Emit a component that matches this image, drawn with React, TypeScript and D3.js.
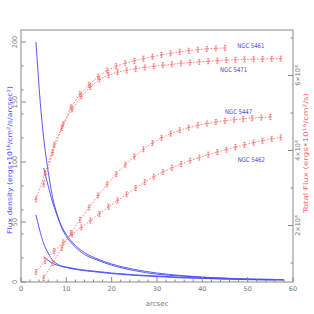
import React from 'react';
import * as d3 from 'd3';

const W = 314;
const H = 314;

// axis ticks
const xTicks = [0, 10, 20, 30, 40, 50, 60];
const xMinor = [2, 4, 6, 8, 12, 14, 16, 18, 22, 24, 26, 28, 32, 34, 36, 38, 42, 44, 46, 48, 52, 54, 56, 58];
const yTicksL = [0, 50, 100, 150, 200];
const yMinorL = [20, 40, 60, 80, 120, 140, 160, 180];
const yTicksR = [20000, 40000, 60000];
const yTickLabelsR = ['2', '4', '6'];
const yMinorR = [10000, 30000, 50000, 70000];

// flux density profiles (blue)
const densA_r = [3.3, 4.4, 5, 6, 7, 8, 9, 10, 12, 14, 17, 20, 25, 30, 35, 40, 46, 52, 58];
const densA_v = [200, 143, 120, 92, 70, 56, 45, 38, 29, 23, 18, 14, 9.5, 6.5, 5, 4, 3, 2.5, 2];
const densB_r = [5, 6, 7, 8, 9, 10, 12, 14, 17, 20, 25, 30, 35, 40, 46];
const densB_v = [95, 80, 66, 55, 46, 39.5, 30.5, 24.5, 19, 15, 10.5, 7.5, 5.5, 4, 3];
const densC_r = [3.3, 4, 5, 6, 7, 8, 9, 10, 12, 15, 20, 25, 30, 35, 40, 46, 52, 58];
const densC_v = [56, 45, 32, 24, 18, 15, 13, 12, 10.5, 9, 7, 5.5, 4.5, 3.5, 3, 2.3, 1.8, 1.5];
const densD_r = [5, 6, 7, 8, 10, 12, 15, 20, 25, 30, 35, 40, 45, 50, 56];
const densD_v = [21, 18, 15.5, 14, 12.5, 11, 9.5, 7.5, 6, 5, 4, 3.2, 2.6, 2.2, 1.8];

// total (cumulative) flux curves (red)
const r5471 = [3.3, 5.3, 7.3, 9.3, 11.3, 13.3, 15.3, 17.3, 19.3, 21.3, 23.3, 25.3, 27.3, 29.3, 31.3, 33.3, 35.3, 37.3, 39.3, 41.3, 43.3, 45.3, 47.3, 49.3, 51.3, 53.3, 55.3, 57.3];
const f5471 = [27000, 34000, 41500, 47000, 51000, 54500, 57000, 58900, 60100, 60900, 61400, 61800, 62150, 62450, 62750, 63000, 63250, 63450, 63650, 63800, 63950, 64100, 64200, 64300, 64350, 64400, 64450, 64500];
const r5461 = [5, 7, 9, 11, 13, 15, 17, 19, 21, 23, 25, 27, 29, 31, 33, 35, 37, 39, 41, 43, 45];
const f5461 = [31000, 39500, 46000, 51500, 55000, 57500, 59700, 61300, 62500, 63300, 63900, 64500, 65000, 65500, 65900, 66300, 66600, 66900, 67100, 67250, 67350];
const r5447 = [5, 7, 9, 11, 13, 15, 17, 19, 21, 23, 25, 27, 29, 31, 33, 35, 37, 39, 41, 43, 45, 47, 49, 51, 53, 55];
const f5447 = [6000, 10000, 14000, 18000, 21500, 24800, 28000, 31000, 33700, 36200, 38400, 40300, 42000, 43400, 44500, 45400, 46100, 46700, 47200, 47600, 47900, 48200, 48450, 48650, 48800, 48950];
const r5462 = [3.3, 5.3, 7.3, 9.3, 11.3, 13.3, 15.3, 17.3, 19.3, 21.3, 23.3, 25.3, 27.3, 29.3, 31.3, 33.3, 35.3, 37.3, 39.3, 41.3, 43.3, 45.3, 47.3, 49.3, 51.3, 53.3, 55.3, 57.3];
const f5462 = [7600, 10500, 13200, 15500, 17600, 19500, 21300, 23100, 25000, 26700, 28300, 30000, 31600, 33000, 34300, 35400, 36400, 37300, 38100, 38900, 39600, 40200, 40900, 41500, 42100, 42600, 43100, 43500];

const galaxyNames = ['NGC 5461', 'NGC 5471', 'NGC 5447', 'NGC 5462'];
const labelRadius = [50.7, 46.9, 48, 50.8];
const labelFlux = [67300, 60900, 49700, 36900];

const BLUE = '#4646ff';
const RED = '#ff6464';
const GRAY = '#8a8a8a';
const FONT = 'DejaVu Sans, sans-serif';

export default function App() {
  const x = d3.scaleLinear().domain([0, 60]).range([21, 293]);
  const yL = d3.scaleLinear().domain([0, 210]).range([282, 30]);
  const yR = d3.scaleLinear().domain([0, 70000]).range([300.5, 38]);

  const blueLine = (rs: number[], vs: number[]) =>
    d3.line<number>().x((d) => x(d)).y((_, i) => yL(vs[i])).curve(d3.curveMonotoneX)(rs) || '';
  const redLine = (rs: number[], vs: number[]) =>
    d3.line<number>().x((d) => x(d)).y((_, i) => yR(vs[i]))(rs) || '';

  const dens = [
    [densA_r, densA_v],
    [densB_r, densB_v],
    [densC_r, densC_v],
    [densD_r, densD_v],
  ];
  const tot = [
    [r5461, f5461],
    [r5471, f5471],
    [r5447, f5447],
    [r5462, f5462],
  ];

  return (
    <svg width={W} height={H} style={{ position: 'fixed', left: 0, top: 0, background: '#fff' }} fontFamily={FONT}>
      <defs>
        <clipPath id="plot">
          <rect x={21} y={30} width={272} height={252} />
        </clipPath>
      </defs>
      <rect width={W} height={H} fill="#fff" />

      <g clipPath="url(#plot)">
        {dens.map(([rs, vs], i) => (
          <path key={'b' + i} d={blueLine(rs, vs)} fill="none" stroke={BLUE} strokeWidth={0.9} />
        ))}
        {tot.map(([rs, vs], i) => (
          <g key={'r' + i}>
            <path d={redLine(rs, vs)} fill="none" stroke={RED} strokeWidth={0.8} strokeDasharray="1.6,1.6" />
            {rs.map((r, j) => {
              const px = x(r);
              const py = yR(vs[j]);
              return (
                <g key={j} stroke={RED} strokeWidth={0.7}>
                  <line x1={px} x2={px} y1={py - 2.5} y2={py + 2.5} />
                  <line x1={px - 1.2} x2={px + 1.2} y1={py - 2.5} y2={py - 2.5} />
                  <line x1={px - 1.2} x2={px + 1.2} y1={py + 2.5} y2={py + 2.5} />
                  <line x1={px - 1.6} x2={px + 1.6} y1={py} y2={py} />
                </g>
              );
            })}
          </g>
        ))}
      </g>

      {galaxyNames.map((n, i) => (
        <text key={n} x={x(labelRadius[i])} y={yR(labelFlux[i])} fill={BLUE} fontSize={6.5} textAnchor="middle" textLength={27} lengthAdjust="spacingAndGlyphs">
          {n}
        </text>
      ))}

      {/* frame */}
      <rect x={21} y={30} width={272} height={252} fill="none" stroke={GRAY} strokeWidth={1} />

      {/* x axis ticks */}
      {xTicks.map((t) => (
        <g key={'xt' + t}>
          <line x1={x(t)} x2={x(t)} y1={282} y2={277} stroke={GRAY} />
          <text x={x(t)} y={291} fontSize={6.5} fill="#777" textAnchor="middle">{t}</text>
        </g>
      ))}
      {xMinor.map((t) => (
        <line key={'xm' + t} x1={x(t)} x2={x(t)} y1={282} y2={279.5} stroke={GRAY} />
      ))}
      <text x={157} y={306} fontSize={7} fill="#777" textAnchor="middle">arcsec</text>

      {/* left axis */}
      {yTicksL.map((t) => (
        <g key={'yl' + t}>
          <line x1={21} x2={26} y1={yL(t)} y2={yL(t)} stroke={GRAY} />
          <text transform={`translate(17,${yL(t)}) rotate(-90)`} fontSize={6.5} fill="#777" textAnchor="middle">{t}</text>
        </g>
      ))}
      {yMinorL.map((t) => (
        <line key={'ylm' + t} x1={21} x2={23.5} y1={yL(t)} y2={yL(t)} stroke={GRAY} />
      ))}
      <text transform="translate(12,160) rotate(-90)" fontSize={6.5} fill={BLUE} textAnchor="middle" textLength={148} lengthAdjust="spacingAndGlyphs">
        Flux density (ergs•10<tspan dy={-2} fontSize={4.5}>16</tspan><tspan dy={2}>/cm</tspan><tspan dy={-2} fontSize={4.5}>2</tspan><tspan dy={2}>/s/arcsec</tspan><tspan dy={-2} fontSize={4.5}>2</tspan><tspan dy={2}>)</tspan>
      </text>

      {/* right axis */}
      {yTicksR.map((t, i) => (
        <g key={'yr' + t}>
          <line x1={293} x2={288} y1={yR(t)} y2={yR(t)} stroke={GRAY} />
          <text transform={`translate(300,${yR(t)}) rotate(-90)`} fontSize={6.5} fill="#777" textAnchor="middle">
            {yTickLabelsR[i]}×10<tspan dy={-2} fontSize={4.5}>4</tspan>
          </text>
        </g>
      ))}
      {yMinorR.map((t) => (
        <line key={'yrm' + t} x1={293} x2={290.5} y1={yR(t)} y2={yR(t)} stroke={GRAY} />
      ))}
      <text transform="translate(308,153) rotate(-90)" fontSize={6.5} fill={RED} textAnchor="middle" textLength={120} lengthAdjust="spacingAndGlyphs">
        Total Flux (ergs•10<tspan dy={-2} fontSize={4.5}>16</tspan><tspan dy={2}>/cm</tspan><tspan dy={-2} fontSize={4.5}>2</tspan><tspan dy={2}>/s)</tspan>
      </text>
    </svg>
  );
}
